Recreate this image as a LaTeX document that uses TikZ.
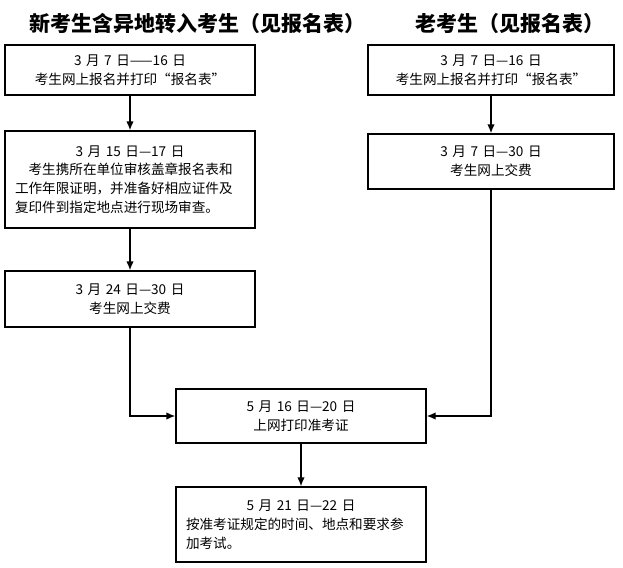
\documentclass[tikz,border=0pt]{standalone}
\usepackage{fontspec}
\newfontfamily\cjk{Noto Sans CJK SC}
\usepackage{tikz}
\usetikzlibrary{arrows.meta,positioning}
\tikzset{
	stage/.style={draw, line width=1.4pt, text width=230pt, inner xsep=10pt, align=center,
		font=\cjk\fontsize{13.6}{18.8}\selectfont},
	heading/.style={font=\cjk\bfseries\fontsize{21}{24}\selectfont},
	flow/.style={line width=1.4pt, -{Latex[length=9pt,width=7.5pt]}}
}
\begin{document}
\begin{tikzpicture}[x=1pt,y=-1pt]
	\useasboundingbox (0,0) rectangle (623,567);
	\node[heading] (newhead) at (197,24) {新考生含异地转入考生（见报名表）};
	\node[heading] (oldhead) at (510,24) {老考生（见报名表）};
	% new candidates
	\node[stage, minimum height=50pt] (newreg) at (130,70) {3 月 7 日——16 日\\考生网上报名并打印“报名表”};
	\node[stage, minimum height=97pt, align=left] (newcheck) at (130,179.5)
		{\makebox[230pt]{3 月 15 日—17 日}\\\hspace*{1em}考生携所在单位审核盖章报名表和\\工作年限证明，并准备好相应证件及\\复印件到指定地点进行现场审查。};
	\node[stage, minimum height=56pt] (newpay) at (130,299) {3 月 24 日—30 日\\考生网上交费};
	% old candidates
	\node[stage, text width=226pt, minimum height=50pt] (oldreg) at (491,70) {3 月 7 日—16 日\\考生网上报名并打印“报名表”};
	\node[stage, text width=226pt, minimum height=55pt] (oldpay) at (491,161.5) {3 月 7 日—30 日\\考生网上交费};
	% common
	\node[stage, minimum height=54pt] (ticket) at (301,416) {5 月 16 日—20 日\\上网打印准考证};
	\node[stage, minimum height=75pt, align=left] (exam) at (301,524.5)
		{\makebox[230pt]{5 月 21 日—22 日}\\按准考证规定的时间、地点和要求参\\加考试。};
	\draw[flow] (newreg) -- (newcheck);
	\draw[flow] (newcheck) -- (newpay);
	\draw[flow] (newpay.south) |- (ticket.west);
	\draw[flow] (oldreg) -- (oldpay);
	\draw[flow] (oldpay.south) |- (ticket.east);
	\draw[flow] (ticket) -- (exam);
\end{tikzpicture}
\end{document}
